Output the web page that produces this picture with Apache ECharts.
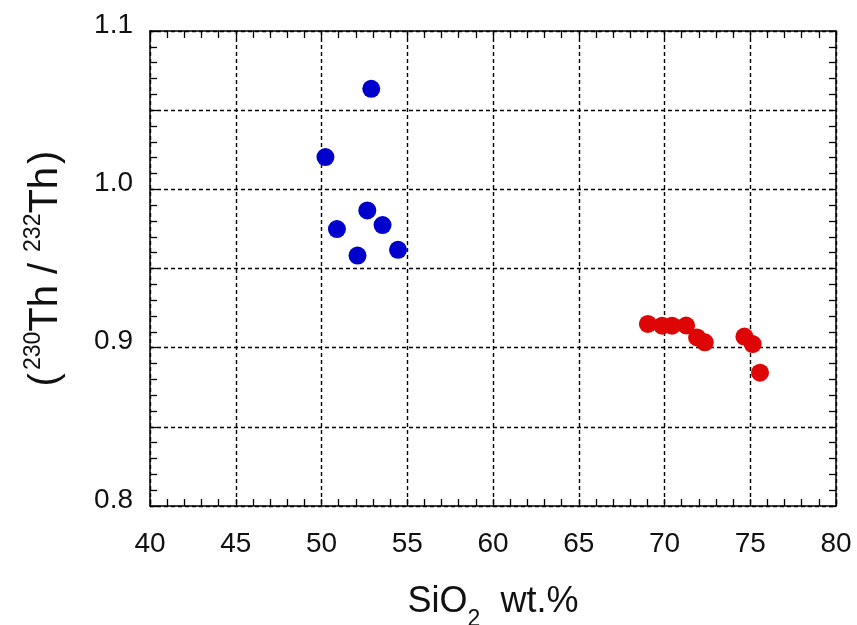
<!DOCTYPE html>
<html>
<head>
<meta charset="utf-8">
<script src="https://cdn.jsdelivr.net/npm/echarts@6/dist/echarts.min.js"></script>
<style>
  html, body { margin: 0; padding: 0; background: #fff; }
  #chart { width: 857px; height: 625px; }
</style>
</head>
<body>
<div id="chart"></div>
<script>
// Basaltic samples: SiO2 (wt.%) and (230Th/232Th)
const maficSiO2 = [52.9, 50.23, 52.67, 53.56, 50.9, 54.46, 52.1];
const maficTh   = [1.0635, 1.0204, 0.9867, 0.9774, 0.9749, 0.9618, 0.9582];

// Silicic samples
const felsicSiO2 = [69.03, 69.86, 70.44, 71.26, 71.9, 72.35, 74.66, 75.14, 75.57];
const felsicTh   = [0.915, 0.9139, 0.9139, 0.914, 0.9065, 0.9034, 0.907, 0.9023, 0.8842];

const xTicks = [40, 45, 50, 55, 60, 65, 70, 75, 80];
const yTickLabels = [0.8, 0.9, 1.0, 1.1];

const pairs = (xs, ys) => xs.map((x, i) => [x, ys[i]]);

const font = '"Liberation Sans", Arial, sans-serif';
const ink = '#111';
const gridDash = { color: '#000', width: 1.4, type: [4, 3] };
const tickStyle = { color: '#000', width: 1.3 };

const chart = echarts.init(document.getElementById('chart'), null, { renderer: 'canvas' });

chart.setOption({
  backgroundColor: '#fff',
  animation: false,
  grid: {
    left: 150, right: 21, top: 31, bottom: 119,
    containLabel: false, outerBoundsMode: 'none'
  },
  xAxis: [
    {
      type: 'value', min: xTicks[0], max: xTicks[xTicks.length - 1], interval: 5,
      axisLine: { lineStyle: { color: '#000', width: 1.5 } },
      axisTick: { inside: true, length: 7, lineStyle: tickStyle },
      minorTick: { show: true, splitNumber: 5, length: 7, lineStyle: tickStyle },
      axisLabel: { fontSize: 28, color: ink, fontFamily: font, margin: 24 },
      splitLine: { show: true, lineStyle: gridDash },
      name: '{a|SiO}{s|2}{a|  wt.%}',
      nameLocation: 'middle', nameGap: 78,
      nameTextStyle: {
        fontFamily: font, color: ink,
        rich: {
          a: { fontSize: 36, fontFamily: font, color: ink, lineHeight: 40, verticalAlign: 'top' },
          s: { fontSize: 23, fontFamily: font, color: ink, lineHeight: 50, verticalAlign: 'top', padding: [24, 0, 0, 0] }
        }
      }
    },
    {
      type: 'value', position: 'top', min: xTicks[0], max: xTicks[xTicks.length - 1], interval: 5,
      axisLine: { show: true, lineStyle: { color: '#000', width: 1.5 } },
      axisTick: { inside: true, length: 7, lineStyle: tickStyle },
      minorTick: { show: true, splitNumber: 5, length: 7, lineStyle: tickStyle },
      axisLabel: { show: false }, splitLine: { show: false }
    }
  ],
  yAxis: [
    {
      type: 'value', min: 0.8, max: 1.1, interval: 0.05,
      axisLine: { show: true, lineStyle: { color: '#000', width: 1.5 } },
      axisTick: { show: true, inside: true, length: 7, lineStyle: tickStyle },
      minorTick: { show: true, splitNumber: 5, length: 7, lineStyle: tickStyle },
      axisLabel: {
        color: ink, fontFamily: font, margin: 17,
        formatter: v => {
          const hit = yTickLabels.find(t => Math.abs(t - v) < 1e-6);
          return hit === undefined ? '' : '{v|' + hit.toFixed(1) + '}';
        },
        rich: {
          v: { fontSize: 28, fontFamily: font, color: ink, padding: [0, 0, 12, 0] }
        }
      },
      splitLine: { show: true, lineStyle: gridDash },
      name: '{p|(}{s|230}{a|Th}{sl|/}{s|232}{a|Th}{p|)}',
      nameLocation: 'middle', nameGap: 84, nameRotate: 90,
      nameTextStyle: {
        fontFamily: font, color: ink,
        rich: {
          a: { fontSize: 40, fontFamily: font, color: ink, lineHeight: 46, verticalAlign: 'bottom' },
          p: { fontSize: 40, fontFamily: font, color: ink, lineHeight: 46, verticalAlign: 'bottom', padding: [0, 3, 0, 3] },
          sl: { fontSize: 40, fontFamily: font, color: ink, lineHeight: 46, verticalAlign: 'bottom', padding: [0, 11, 0, 11] },
          s: { fontSize: 23, fontFamily: font, color: ink, lineHeight: 46, verticalAlign: 'bottom', padding: [0, 0, 21, 0] }
        }
      }
    },
    {
      type: 'value', position: 'right', min: 0.8, max: 1.1, interval: 0.05,
      axisLine: { show: true, lineStyle: { color: '#000', width: 1.5 } },
      axisTick: { show: true, inside: true, length: 7, lineStyle: tickStyle },
      minorTick: { show: true, splitNumber: 5, length: 7, lineStyle: tickStyle },
      axisLabel: { show: false }, splitLine: { show: false }
    }
  ],
  series: [
    {
      type: 'scatter', name: 'mafic', symbol: 'circle', symbolSize: 18,
      itemStyle: { color: '#0000cc', opacity: 1 },
      data: pairs(maficSiO2, maficTh), z: 5
    },
    {
      type: 'scatter', name: 'felsic', symbol: 'circle', symbolSize: 18,
      itemStyle: { color: '#dd0505', opacity: 1 },
      data: pairs(felsicSiO2, felsicTh), z: 5
    }
  ]
});
</script>
</body>
</html>
